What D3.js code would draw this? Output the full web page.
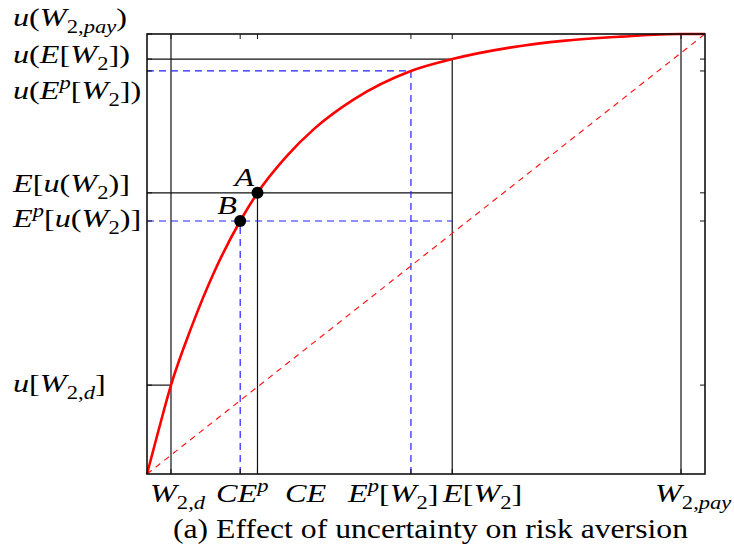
<!DOCTYPE html>
<html>
<head>
<meta charset="utf-8">
<script src="https://cdn.jsdelivr.net/npm/d3@7"></script>
<style>
  html, body { margin: 0; padding: 0; background: #fff; }
  svg { display: block; }
  text { font-family: "Liberation Serif", "Times New Roman", serif; fill: #000; }
</style>
</head>
<body>
<svg id="chart" width="734" height="547"></svg>
<script>
// Wealth levels on the horizontal axis (normalised 0..1)
const xTickNames  = ["W_{2,d}", "CE^{p}", "CE", "E^{p}[W_{2}]", "E[W_{2}]", "W_{2,pay}"];
const xTickValues = [0.043, 0.167, 0.198, 0.473, 0.547, 0.957];

// Utility levels on the vertical axis (normalised 0..1)
const yTickNames  = ["u[W_{2,d}]", "E^{p}[u(W_{2})]", "E[u(W_{2})]", "u(E^{p}[W_{2}])", "u(E[W_{2}])", "u(W_{2,pay})"];
const yTickValues = [0.202, 0.575, 0.639, 0.916, 0.943, 1.0];

// Concave utility curve u(W), sampled
const curveWealth  = [0, 0.02, 0.043, 0.08, 0.12, 0.167, 0.198, 0.25, 0.30, 0.37, 0.473, 0.547, 0.65, 0.75, 0.85, 0.957, 1.0];
const curveUtility = [0, 0.096, 0.202, 0.335, 0.458, 0.575, 0.639, 0.722, 0.785, 0.851, 0.916, 0.943, 0.969, 0.985, 0.994, 1.0, 1.0];

// Marked points: A = (CE, E[u]), B = (CE^p, E^p[u])
const pointNames   = ["A", "B"];
const pointWealth  = [0.198, 0.167];
const pointUtility = [0.639, 0.575];

// Label placement tweaks (pixels)
const yLabelDy = [7, 6, -1, 28, 4, -8];
const xLabelX  = [150, 216, 285, 348, 443, 655];

const svg = d3.select("#chart");
const x = d3.scaleLinear().domain([0, 1]).range([147, 705]);
const y = d3.scaleLinear().domain([0, 1]).range([474, 34]);

const FS = 26;       // math label size
const STRETCH = 1.24; // wide math lettering

// Writes a TeX-like string (with _{..} and ^{..}) into a text element
function mathText(textSel, str, size) {
  const segs = [];
  let i = 0;
  while (i < str.length) {
    const c = str[i];
    if ((c === "_" || c === "^") && str[i + 1] === "{") {
      const end = str.indexOf("}", i);
      segs.push({ t: str.slice(i + 2, end), m: c === "_" ? 1 : -1 });
      i = end + 1;
    } else {
      segs.push({ t: c, m: 0 });
      i++;
    }
  }
  let cur = 0;
  segs.forEach(s => {
    const runs = s.t.match(/[A-Za-z]+|[^A-Za-z]+/g) || [];
    const target = s.m === 1 ? 0.28 * size : s.m === -1 ? -0.4 * size : 0;
    runs.forEach((r, k) => {
      const ts = textSel.append("tspan").text(r)
        .attr("font-size", s.m === 0 ? size : size * 0.7)
        .attr("font-style", /[A-Za-z]/.test(r) ? "italic" : "normal");
      if (k === 0 && target !== cur) { ts.attr("dy", target - cur); cur = target; }
    });
  });
}

// Places a math label with its baseline-left corner at (px, py)
function mathLabel(px, py, str) {
  const t = svg.append("g")
    .attr("transform", `translate(${px},${py}) scale(${STRETCH},1)`)
    .append("text").attr("x", 0).attr("y", 0);
  mathText(t, str, FS);
}

// Guide lines
const black = "#111";
const blue = "#2020ff";
const g = svg.append("g");

function seg(x1, y1, x2, y2, color, dash, w) {
  g.append("line")
    .attr("x1", x(x1)).attr("y1", y(y1)).attr("x2", x(x2)).attr("y2", y(y2))
    .attr("stroke", color).attr("stroke-width", w || 1.2)
    .attr("stroke-dasharray", dash || null);
}

const [wd, cep, ce, ep, ew, wpay] = xTickValues;
const [uwd, epu, eu, uep, uew, upay] = yTickValues;

// Solid guides
seg(wd, 0, wd, 1, black);
seg(0, uwd, wd, uwd, black);
seg(wpay, 0, wpay, 1, black);
seg(0, uew, ew, uew, black);
seg(ew, 0, ew, uew, black);
seg(0, eu, ew, eu, black);
seg(ce, 0, ce, eu, black);

// Dashed guides under the alternative belief p
const blueDash = "7 5";
seg(0, uep, ep, uep, blue, blueDash);
seg(ep, 0, ep, uep, blue, blueDash);
seg(0, epu, ew, epu, blue, blueDash);
seg(cep, 0, cep, epu, blue, blueDash);

// Risk-neutral diagonal
seg(0, 0, 1, 1, "#ff1a1a", "6 5", 1.2);

// Utility curve
const curveData = curveWealth.map((w, i) => [w, curveUtility[i]]);
svg.append("path")
  .datum(curveData)
  .attr("fill", "none")
  .attr("stroke", "#ff0000")
  .attr("stroke-width", 2.6)
  .attr("d", d3.line().x(d => x(d[0])).y(d => y(d[1])).curve(d3.curveMonotoneX));

// Frame and inward ticks
svg.append("rect")
  .attr("x", x(0)).attr("y", y(1))
  .attr("width", x(1) - x(0)).attr("height", y(0) - y(1))
  .attr("fill", "none").attr("stroke", "#111").attr("stroke-width", 1.6);

const tk = svg.append("g").attr("stroke", "#111").attr("stroke-width", 1);
yTickValues.forEach(v => {
  tk.append("line").attr("x1", x(1)).attr("x2", x(1) - 5).attr("y1", y(v)).attr("y2", y(v));
  tk.append("line").attr("x1", x(0)).attr("x2", x(0) + 5).attr("y1", y(v)).attr("y2", y(v));
});
xTickValues.forEach(v => {
  tk.append("line").attr("x1", x(v)).attr("x2", x(v)).attr("y1", y(0)).attr("y2", y(0) - 5);
  tk.append("line").attr("x1", x(v)).attr("x2", x(v)).attr("y1", y(1)).attr("y2", y(1) + 5);
});

// Points A and B
pointNames.forEach((n, i) => {
  svg.append("circle")
    .attr("cx", x(pointWealth[i])).attr("cy", y(pointUtility[i]))
    .attr("r", 6).attr("fill", "#000");
  mathLabel(x(pointWealth[i]) - 23, y(pointUtility[i]) - 7, n);
});

// Axis labels
yTickNames.forEach((n, i) => mathLabel(13, y(yTickValues[i]) + yLabelDy[i], n));
xTickNames.forEach((n, i) => mathLabel(xLabelX[i], 502, n));

// Caption
svg.append("text")
  .attr("x", 173).attr("y", 538)
  .attr("font-size", 27)
  .attr("textLength", 515)
  .attr("lengthAdjust", "spacingAndGlyphs")
  .text("(a) Effect of uncertainty on risk aversion");
</script>
</body>
</html>
